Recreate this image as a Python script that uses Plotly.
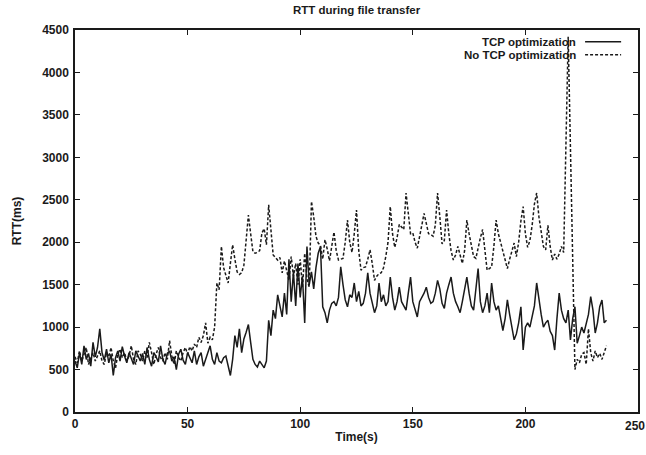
import plotly.graph_objects as go

# RTT samples, one per second
time_s = list(range(0, 237))

rtt_tcp_opt = [
    600, 520, 700, 560, 780, 620, 690, 540, 820, 650,
    760, 980, 700, 610, 740, 580, 680, 430, 640, 720,
    600, 770, 660, 580, 700, 640, 560, 720, 650, 600,
    690, 560, 760, 620, 540, 700, 650, 590, 780, 620,
    560, 690, 720, 600, 650, 500, 680, 740, 610, 560,
    700, 640, 580, 720, 560, 650, 700, 540, 620, 680,
    780, 620, 560, 700, 600, 580, 640, 660, 560, 430,
    620, 900, 760, 980, 700, 860, 940, 1030, 820, 620,
    560, 530, 600, 560, 520, 600, 1080, 900, 1200, 1100,
    1380, 1250, 1120, 1400, 1150, 1800, 1300, 1650, 1250, 1750,
    1350, 1600, 1050, 1950, 1500, 1650, 1450, 1700, 1870, 1950,
    1240, 1170, 1050, 1200, 1280, 1300, 1250, 1350, 1710, 1500,
    1320, 1240, 1380, 1350, 1520, 1300, 1420, 1250, 1280, 1400,
    1640, 1400, 1300, 1170, 1250, 1520, 1300, 1380, 1250, 1300,
    1590, 1350, 1200, 1300, 1470, 1300, 1250, 1200, 1400, 1590,
    1300, 1200, 1120, 1300, 1350, 1400, 1470, 1350, 1280, 1300,
    1400, 1550, 1450, 1280, 1220, 1400, 1500, 1590, 1400, 1300,
    1240, 1170, 1300, 1450, 1590, 1400, 1250, 1200, 1450, 1690,
    1300, 1170, 1250, 1400, 1170, 1520, 1300, 1200, 1250, 1080,
    960, 1100, 1320, 1150, 1000, 850, 920, 1050, 1240, 730,
    1000, 1050, 1000, 1120, 1250, 1520, 1300, 1150, 1000, 1050,
    1080, 950, 900, 730, 1100, 1400, 1200, 1100, 1050, 1200,
    850, 1100, 1240, 810, 900, 1000, 930, 1050, 1150, 1360,
    1200, 930, 1050, 1240, 1320, 1050, 1080,
]

rtt_no_opt = [
    650, 580, 720, 600, 680, 760, 560, 640, 700, 600,
    660, 720, 600, 560, 700, 650, 760, 600, 520, 680,
    740, 640, 700, 600, 660, 780, 620, 560, 720, 680,
    600, 720, 640, 820, 700, 560, 680, 760, 640, 600,
    700, 620, 840, 660, 560, 720, 640, 600, 700, 760,
    680, 770, 720, 800, 760, 880, 820, 900, 1050, 810,
    880, 850, 1000, 1520, 1440, 1950, 1700, 1600, 1520, 1750,
    1970, 1800, 1650, 1620, 1640, 1730, 2000, 2320, 2100, 1890,
    1870, 1880, 1900, 2110, 2160, 1970, 2440, 2100, 1850, 1820,
    1790, 1820, 1640, 1780, 1650, 1550, 1830, 1600, 1750, 1500,
    1800, 1470, 1870, 1570, 1470, 2480, 2300, 2070, 1990, 1960,
    1800, 2030, 1920, 1780, 1950, 2120, 1900, 1790, 1800, 1810,
    2000, 2260, 2000, 1880, 2100, 2380, 1900, 1670, 1700, 1710,
    1800, 1910, 1750, 1550, 1600, 1630, 1640, 1700, 1830, 2000,
    2420, 2100, 1940, 2050, 2210, 2180, 2150, 2580, 2300, 2100,
    2110, 2000, 1930, 2050, 2200, 2340, 2200, 2100, 2090, 2070,
    2200, 2580, 2300, 1980, 2020, 2380, 2100, 1900, 1790, 1850,
    1950, 1850, 1750, 1900, 2260, 2100, 1950, 1830, 1810, 1950,
    2050, 2150, 1900, 1670, 1690, 1710, 1950, 2260, 2100, 2000,
    1910, 1800, 1690, 1800, 1900, 1990, 1830, 2000, 2250, 2420,
    2100, 1940, 2020, 2200, 2450, 2580, 2300, 2100, 1950, 1910,
    2200, 1950, 1790, 1860, 1800, 1860, 1950, 1880, 3200, 4420,
    3110, 1800, 500, 620, 580, 680, 700, 560, 980, 700,
    600, 720, 640, 690, 620, 700, 780,
]

series_names = ["TCP optimization", "No TCP optimization"]
x_ticks = [0, 50, 100, 150, 200, 250]
y_ticks = [0, 500, 1000, 1500, 2000, 2500, 3000, 3500, 4000, 4500]

FONT = "Liberation Sans, Arial, sans-serif"
INK = "#1a1a1a"
DASH = "3px,2px"
TICK_FONT = dict(family=FONT, size=12, color=INK, weight="bold")

fig = go.Figure()
fig.add_trace(go.Scatter(
    x=time_s, y=rtt_tcp_opt, mode="lines", name=series_names[0],
    line=dict(color=INK, width=1.5), showlegend=False,
))
fig.add_trace(go.Scatter(
    x=time_s, y=rtt_no_opt, mode="lines", name=series_names[1],
    line=dict(color=INK, width=1.5, dash=DASH), showlegend=False,
))

# gnuplot-style key: right-aligned text with the line sample after it
key_y = [0.969, 0.935]
key_dash = ["solid", DASH]
for name, ky, dash in zip(series_names, key_y, key_dash):
    fig.add_annotation(
        xref="paper", yref="paper", x=0.894, y=ky, text=name,
        showarrow=False, xanchor="right", yanchor="middle",
        font=dict(family=FONT, size=11.5, color=INK, weight="bold"),
    )
    fig.add_shape(
        type="line", xref="paper", yref="paper",
        x0=0.906, x1=0.970, y0=ky, y1=ky,
        line=dict(color=INK, width=1.5, dash=dash),
    )

# the last x tick label sits right at the page edge, so it is placed by hand
# (plotly drops tick labels that do not fit) and nudged inward to stay visible
fig.add_annotation(
    xref="x", yref="paper", x=x_ticks[-1], y=0, yshift=-5, xshift=-3,
    text=str(x_ticks[-1]), showarrow=False,
    xanchor="center", yanchor="top", font=TICK_FONT,
)

axis_common = dict(
    showline=True, linecolor=INK, linewidth=1.5, mirror="ticks",
    ticks="inside", ticklen=5, tickcolor=INK, tickwidth=1.2,
    showgrid=False, zeroline=False, automargin=False,
    tickfont=TICK_FONT,
)

fig.update_layout(
    width=646, height=455,
    margin=dict(l=75, r=8, t=30, b=43),
    paper_bgcolor="white", plot_bgcolor="white",
    title=dict(
        text="RTT during file transfer", x=0.552, xanchor="center",
        y=0.977, yanchor="middle",
        font=dict(family=FONT, size=11.5, color=INK, weight="bold"),
    ),
    xaxis=dict(
        range=[0, 250], tickvals=x_ticks,
        title=dict(text="Time(s)", standoff=2,
                   font=dict(family=FONT, size=12, color=INK, weight="bold")),
        **axis_common,
    ),
    yaxis=dict(
        range=[0, 4500], tickvals=y_ticks, ticklabelstandoff=2,
        title=dict(text="RTT(ms)", standoff=18,
                   font=dict(family=FONT, size=12, color=INK, weight="bold")),
        **axis_common,
    ),
)

fig.write_html("out.html")
